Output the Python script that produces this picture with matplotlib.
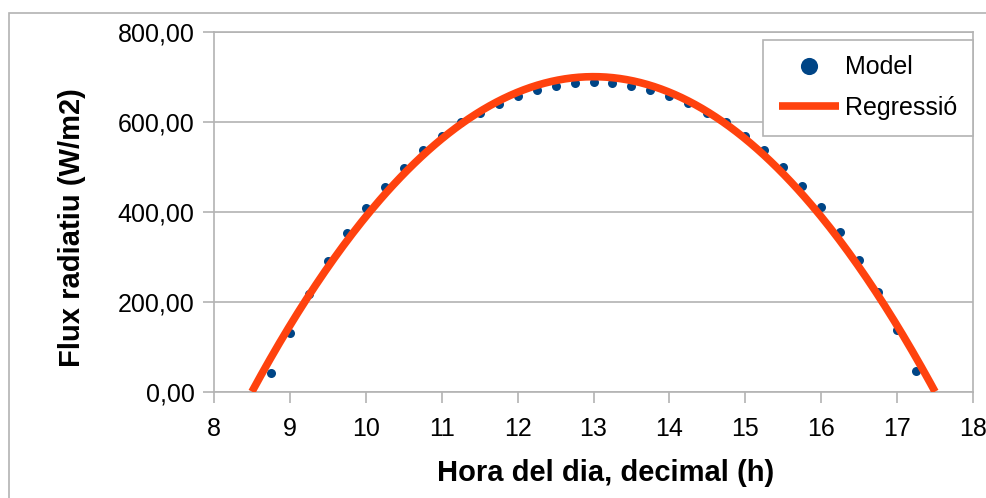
import numpy as np
import matplotlib
matplotlib.use("Agg")
import matplotlib.pyplot as plt
from matplotlib.patches import Rectangle

plt.rcParams['font.family'] = ['Liberation Sans', 'DejaVu Sans']

# modelled radiative flux every quarter hour
hores = [8.75, 9.0, 9.25, 9.5, 9.75, 10.0, 10.25, 10.5, 10.75, 11.0, 11.25, 11.5,
         11.75, 12.0, 12.25, 12.5, 12.75, 13.0, 13.25, 13.5, 13.75, 14.0, 14.25,
         14.5, 14.75, 15.0, 15.25, 15.5, 15.75, 16.0, 16.25, 16.5, 16.75, 17.0, 17.25]
flux_model = [41, 131, 216, 290, 352, 408, 455, 498, 536, 569, 599, 620,
              640, 658, 670, 679, 685, 688, 685, 679, 670, 658, 641,
              620, 599, 569, 537, 499, 456, 410, 355, 293, 221, 136, 46]

# quadratic regression (a*x^2 + b*x + c) and the span it is drawn over
coef_regressio = [-34.568, 898.77, -5141.98]
rang_regressio = [8.5, 17.5]

xticks = [8, 9, 10, 11, 12, 13, 14, 15, 16, 17, 18]
yticks = [0, 200, 400, 600, 800]
ytick_labels = ['0,00', '200,00', '400,00', '600,00', '800,00']

blau = '#004586'
taronja = '#ff420e'
gris = '#b3b3b3'

fig = plt.figure(figsize=(9.87, 4.98), dpi=100)
ax = fig.add_axes([214/987, 1-391.7/498, (973-214)/987, (391.7-31.7)/498])

# outer chart frame
fig.patches.append(Rectangle((9/987, -0.1), 1.2, 1.1 - 13/498, transform=fig.transFigure,
                             fill=False, ec=gris, lw=1.2))

ax.plot(hores, flux_model, 'o', color=blau, ms=6.5, mec='none', label='Model', zorder=3)

xr = np.linspace(rang_regressio[0], rang_regressio[1], 300)
ax.plot(xr, np.polyval(coef_regressio, xr), '-', color=taronja, lw=5.5,
        label='Regressió', zorder=4, solid_capstyle='butt')

ax.set_xlim(8, 18)
ax.set_ylim(0, 800)
ax.set_xticks(xticks)
ax.set_yticks(yticks)
ax.set_yticklabels(ytick_labels)
ax.yaxis.grid(True, color=gris, lw=1.2)
ax.set_axisbelow(True)
for s in ax.spines.values():
    s.set_color(gris)
    s.set_linewidth(1.2)
ax.tick_params(axis='both', colors=gris, length=8, width=1.2, labelsize=18,
               labelcolor='black')
ax.tick_params(axis='x', pad=10)
ax.tick_params(axis='y', pad=6)

ax.set_xlabel('Hora del dia, decimal (h)', fontsize=21, fontweight='bold')
ax.set_ylabel('Flux radiatiu (W/m2)', fontsize=21, fontweight='bold')
ax.xaxis.set_label_coords(0.516, -0.188)
ax.yaxis.set_label_coords(-0.169, 0.455)

leg = ax.legend(loc='upper right', bbox_to_anchor=(973/987, 1-40/498),
                bbox_transform=fig.transFigure, borderaxespad=0, fontsize=18,
                fancybox=False, edgecolor=gris, framealpha=1, markerscale=1.9,
                handlelength=2.4, handletextpad=0.25, labelspacing=0.67,
                borderpad=0.62)
leg.get_frame().set_linewidth(1.2)

fig.savefig('out.png', dpi=100)
